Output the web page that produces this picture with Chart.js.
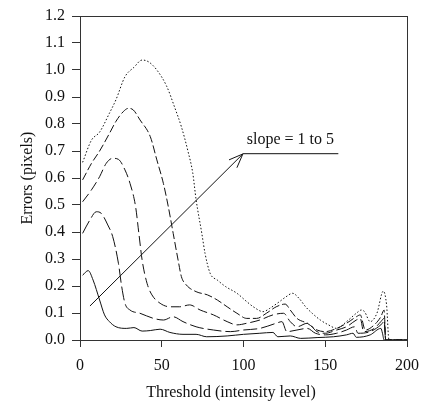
<!DOCTYPE html>
<html>
<head>
<meta charset="utf-8">
<script src="https://cdn.jsdelivr.net/npm/chart.js@4"></script>
<style>
  html, body { margin: 0; padding: 0; background: #fff; }
  #errChart { display: block; }
</style>
</head>
<body>
<canvas id="errChart" width="425" height="402"></canvas>
<script>
// threshold (x) and error (y) values, one pair of arrays per slope
var x1 = [1.6, 5, 8, 12, 15, 18, 22, 28.6, 33, 38, 43, 49, 55, 63, 71, 77.5, 90, 100, 110, 118, 121, 128.6, 135, 145, 155, 163, 167, 169, 177.5, 184, 185, 186, 200];
var y1 = [0.24, 0.257, 0.222, 0.148, 0.093, 0.068, 0.049, 0.043, 0.046, 0.033, 0.035, 0.04, 0.028, 0.021, 0.021, 0.012, 0.015, 0.021, 0.025, 0.028, 0.012, 0.015, 0.006, 0.009, 0.012, 0.019, 0.025, 0.01, 0.019, 0.043, 0.025, 0, 0];

var x2 = [1.6, 6, 10, 13, 17, 20, 23.5, 25.5, 27.5, 30.6, 36.7, 45, 51, 57, 63, 71, 81.6, 92, 100, 110, 120, 123.5, 126.5, 132.7, 139, 144, 150, 157, 163, 168, 170, 177.5, 184, 186, 187, 200];
var y2 = [0.395, 0.444, 0.475, 0.469, 0.426, 0.383, 0.284, 0.198, 0.136, 0.111, 0.099, 0.08, 0.074, 0.086, 0.068, 0.049, 0.037, 0.031, 0.037, 0.043, 0.062, 0.068, 0.031, 0.037, 0.043, 0.025, 0.019, 0.025, 0.037, 0.049, 0.025, 0.031, 0.056, 0.068, 0, 0];

var x3 = [1.6, 7, 12, 16, 20, 23.5, 27.5, 30.6, 34, 36, 38, 41, 44, 49, 55, 61, 67, 73.5, 81.6, 90, 96, 102, 110, 118, 124.5, 128.6, 132.7, 139, 145, 150, 157, 163, 169, 171.4, 173.5, 180, 184, 186, 187, 200];
var y3 = [0.512, 0.556, 0.605, 0.654, 0.673, 0.669, 0.63, 0.58, 0.494, 0.395, 0.296, 0.21, 0.167, 0.136, 0.123, 0.123, 0.13, 0.111, 0.093, 0.068, 0.056, 0.062, 0.074, 0.093, 0.099, 0.068, 0.049, 0.062, 0.031, 0.025, 0.037, 0.049, 0.074, 0.08, 0.031, 0.043, 0.068, 0.08, 0, 0];

var x4 = [1.6, 7, 12, 18, 22, 26.5, 29.6, 32.6, 36.7, 43, 47, 51, 54, 57, 60, 62, 65, 71, 78, 84, 90, 96, 102, 108, 114, 120, 125.5, 128.6, 132.7, 139, 145, 150, 157, 163, 169, 171.4, 174.5, 180, 184, 186, 187, 200];
var y4 = [0.593, 0.654, 0.70, 0.765, 0.81, 0.846, 0.858, 0.852, 0.815, 0.753, 0.667, 0.58, 0.494, 0.395, 0.296, 0.235, 0.204, 0.179, 0.167, 0.148, 0.123, 0.099, 0.08, 0.08, 0.099, 0.123, 0.133, 0.111, 0.08, 0.062, 0.037, 0.031, 0.043, 0.062, 0.086, 0.093, 0.037, 0.056, 0.086, 0.111, 0, 0];

var x5 = [1.6, 7, 12, 18, 22, 27.5, 33, 38, 42, 47, 53, 58, 62, 66, 69, 71, 74.5, 76.5, 79.6, 84, 89, 96, 102, 106, 112, 116, 122, 126, 130, 134, 138, 142, 147, 152, 157, 163, 169, 172, 174, 177.5, 181.6, 185.5, 187.5, 189, 200];
var y5 = [0.658, 0.74, 0.77, 0.84, 0.89, 0.975, 1.01, 1.037, 1.03, 1.0, 0.94, 0.86, 0.79, 0.70, 0.617, 0.52, 0.395, 0.32, 0.247, 0.222, 0.198, 0.173, 0.142, 0.123, 0.105, 0.117, 0.142, 0.16, 0.173, 0.154, 0.123, 0.099, 0.074, 0.056, 0.043, 0.068, 0.099, 0.111, 0.105, 0.068, 0.099, 0.181, 0.13, 0, 0];

// annotation arrow: start and end in data units
var arrowX = [6.1, 99.6];
var arrowY = [0.126, 0.689];
var labelLineX = [99.6, 158];
var labelLineY = [0.69, 0.69];

var xTicks = [0, 50, 100, 150, 200];
var yTicks = [0, 0.1, 0.2, 0.3, 0.4, 0.5, 0.6, 0.7, 0.8, 0.9, 1.0, 1.1, 1.2];

var serif = '"Liberation Serif", "Times New Roman", serif';

function pts(xs, ys) {
    return xs.map(function (v, i) { return { x: v, y: ys[i] }; });
}

function series(xs, ys, dash) {
    return {
        data: pts(xs, ys),
        borderColor: '#111',
        borderWidth: 1,
        borderDash: dash,
        pointRadius: 0,
        cubicInterpolationMode: 'monotone',
        fill: false
    };
}

var framePlugin = {
    id: 'frame',
    afterDatasetsDraw: function (chart) {
        var ctx = chart.ctx;
        var a = chart.chartArea;
        var xs = chart.scales.x;
        var ys = chart.scales.y;
        ctx.save();
        // box round the plot
        ctx.strokeStyle = '#333';
        ctx.lineWidth = 1;
        ctx.strokeRect(a.left + 0.5, a.top + 0.5, a.right - a.left, a.bottom - a.top);

        // arrow head
        var x0 = xs.getPixelForValue(arrowX[0]), y0 = ys.getPixelForValue(arrowY[0]);
        var x1p = xs.getPixelForValue(arrowX[1]), y1p = ys.getPixelForValue(arrowY[1]);
        var ang = Math.atan2(y1p - y0, x1p - x0);
        var len = 15, spread = 0.38;
        ctx.strokeStyle = '#111';
        ctx.beginPath();
        ctx.moveTo(x1p - len * Math.cos(ang - spread), y1p - len * Math.sin(ang - spread));
        ctx.lineTo(x1p, y1p);
        ctx.lineTo(x1p - len * Math.cos(ang + spread), y1p - len * Math.sin(ang + spread));
        ctx.stroke();

        // labels
        ctx.fillStyle = '#111';
        ctx.font = '16px ' + serif;
        ctx.textAlign = 'left';
        ctx.textBaseline = 'alphabetic';
        ctx.fillText('slope = 1 to 5', xs.getPixelForValue(102), ys.getPixelForValue(0.69) - 10);

        // x axis title sits a little left of the plot centre in the original
        ctx.textAlign = 'center';
        ctx.textBaseline = 'middle';
        ctx.fillText('Threshold (intensity level)', 231, a.bottom + 53);
        ctx.restore();
    }
};

var ctx = document.getElementById('errChart').getContext('2d');
var errChart = new Chart(ctx, {
    type: 'line',
    data: {
        datasets: [
            series(x1, y1, []),
            series(x2, y2, [14, 4]),
            series(x3, y3, [10, 4]),
            series(x4, y4, [8, 3]),
            series(x5, y5, [1.5, 2]),
            {
                data: pts(arrowX, arrowY),
                borderColor: '#111',
                borderWidth: 1,
                pointRadius: 0,
                fill: false
            },
            {
                data: pts(labelLineX, labelLineY),
                borderColor: '#111',
                borderWidth: 1,
                pointRadius: 0,
                fill: false
            }
        ]
    },
    options: {
        responsive: false,
        animation: false,
        layout: {
            padding: { left: 0, right: 18, top: 16, bottom: 0 }
        },
        scales: {
            x: {
                type: 'linear',
                min: 0,
                max: 200,
                afterBuildTicks: function (s) { s.ticks = xTicks.map(function (v) { return { value: v }; }); },
                afterFit: function (s) { s.height = 62; s.paddingLeft = 0; s.paddingRight = 0; },
                grid: { display: true, drawOnChartArea: false, drawTicks: true, tickLength: 7, color: '#333' },
                border: { color: '#333' },
                ticks: {
                    color: '#111',
                    padding: 9,
                    maxRotation: 0,
                    font: { family: serif, size: 16 }
                },
                title: { display: false }
            },
            y: {
                type: 'linear',
                min: 0,
                max: 1.2,
                afterBuildTicks: function (s) { s.ticks = yTicks.map(function (v) { return { value: v }; }); },
                afterFit: function (s) { s.width = 80; s.paddingTop = 0; s.paddingBottom = 0; },
                grid: { display: true, drawOnChartArea: false, drawTicks: true, tickLength: 8, color: '#333' },
                border: { color: '#333' },
                ticks: {
                    color: '#111',
                    padding: 7,
                    font: { family: serif, size: 16 },
                    callback: function (v) { return Number(v).toFixed(1); }
                },
                title: {
                    display: true,
                    text: 'Errors (pixels)',
                    color: '#111',
                    padding: { top: 18, bottom: 4 },
                    font: { family: serif, size: 16 }
                }
            }
        },
        plugins: {
            legend: { display: false },
            tooltip: { enabled: false }
        }
    },
    plugins: [framePlugin]
});
</script>
</body>
</html>
